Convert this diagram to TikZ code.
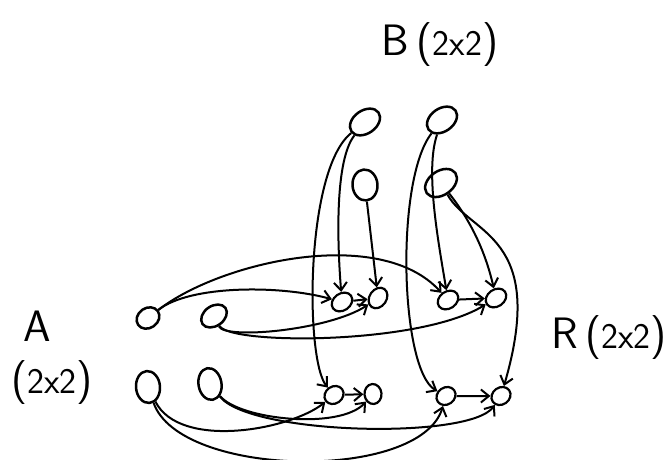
\documentclass[tikz,border=0pt]{standalone}
\usetikzlibrary{shapes.geometric,arrows.meta}
\begin{document}
\begin{tikzpicture}[x=1pt,y=-1pt,line width=2pt,
  >={Straight Barb[length=8pt,width=13pt]},
  bnode/.style={draw,ellipse,line width=2.5pt,inner sep=0pt,minimum width=33pt,minimum height=23pt,rotate=35},
  anode/.style={draw,ellipse,line width=2.5pt,inner sep=0pt,minimum width=28pt,minimum height=20pt,rotate=35},
  rnode/.style={draw,ellipse,line width=2.2pt,inner sep=0pt,minimum width=22pt,minimum height=17pt,rotate=35},
  lbl/.style={font=\fontsize{44}{50}\sffamily\selectfont,inner sep=0pt}]
\useasboundingbox (0,0) rectangle (672,460);

\node[bnode] (b11) at (365,122) {};
\node[bnode] (b12) at (442,120) {};
\node[bnode,minimum width=31pt,minimum height=25pt,rotate=60] (b21) at (365,185) {};
\node[bnode,minimum width=35pt,minimum height=24pt] (b22) at (441,183) {};

\node[anode,minimum width=24pt] (a11) at (148,318) {};
\node[anode] (a12) at (214,316) {};
\node[anode,minimum width=32pt,minimum height=24pt,rotate=60] (a21) at (148,387) {};
\node[anode,minimum width=32pt,minimum height=23pt,rotate=65] (a22) at (210,384) {};

\node[rnode] (r11p) at (342,302) {};
\node[rnode,rotate=20] (r11s) at (378,298) {};
\node[rnode] (r12p) at (448,300) {};
\node[rnode] (r12s) at (496,298) {};
\node[rnode,minimum width=20pt] (r21p) at (334,395) {};
\node[rnode,minimum width=20pt,rotate=60] (r21s) at (373,394) {};
\node[rnode,minimum width=20pt] (r22p) at (446,396) {};
\node[rnode,minimum width=20pt] (r22s) at (501,396) {};

\draw[->] (b11) .. controls (335,160) and (337,240) .. (r11p);
\draw[->] (b11) .. controls (305,170) and (305,360) .. (r21p);
\draw[->] (b21) -- (r11s);
\draw[->] (b12) .. controls (425,170) and (438,240) .. (r12p);
\draw[->] (b12) .. controls (395,180) and (400,370) .. (r22p);
\draw[->] (b22) .. controls (470,220) and (485,250) .. (r12s);
\draw[->] (b22) .. controls (470,235) and (548,235) .. (r22s);

\draw[->] (a11) .. controls (190,285) and (280,285) .. (r11p);
\draw[->] (a11) .. controls (220,262) and (380,225) .. (r12p);
\draw[->] (a12) .. controls (225,340) and (330,330) .. (r11s);
\draw[->] (a12) .. controls (230,345) and (420,345) .. (r12s);
\draw[->] (a21) .. controls (180,450) and (290,430) .. (r21p);
\draw[->] (a21) .. controls (180,478) and (420,482) .. (r22p);
\draw[->] (a22) .. controls (240,420) and (340,430) .. (r21s);
\draw[->] (a22) .. controls (250,435) and (470,440) .. (r22s);

\draw[->] (r11p) -- (r11s);
\draw[->] (r12p) -- (r12s);
\draw[->] (r21p) -- (r21s);
\draw[->] (r22p) -- (r22s);

\node[lbl] (bl) at (440,45) {B\,(\fontsize{36}{40}\selectfont 2x2\fontsize{44}{50}\selectfont)};
\node[lbl] (al) at (37,326) {A};
\node[lbl] (as) at (52,383) {(\fontsize{36}{40}\selectfont 2x2\fontsize{44}{50}\selectfont)};
\node[lbl,anchor=east] (rl) at (668,338) {R\,(\fontsize{36}{40}\selectfont 2x2\fontsize{44}{50}\selectfont)};
\end{tikzpicture}
\end{document}
